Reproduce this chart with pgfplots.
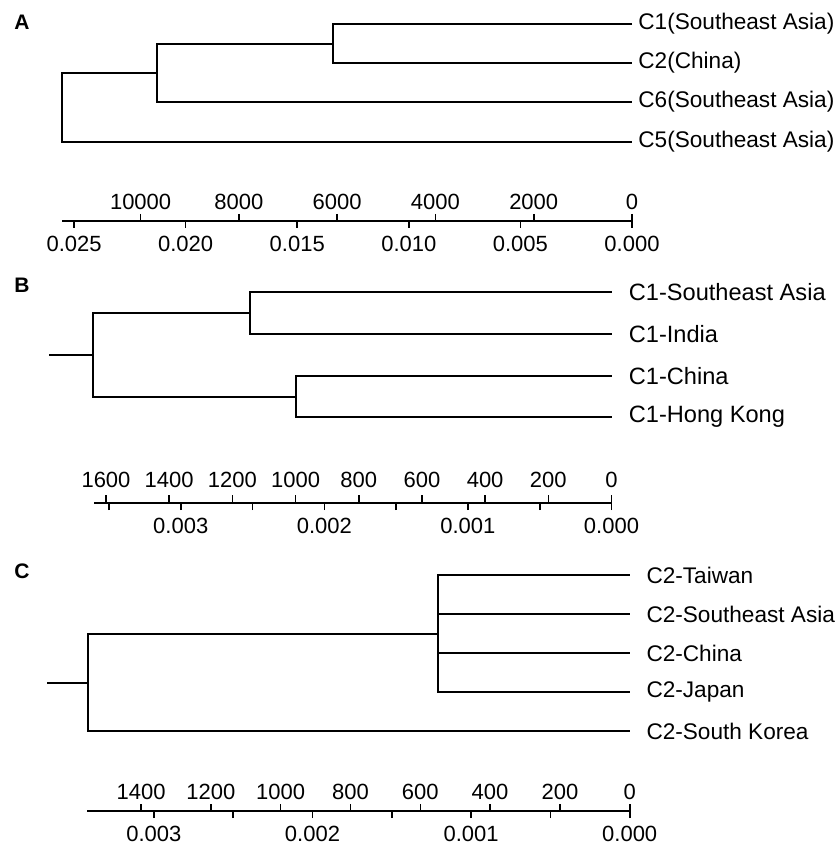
\documentclass[border=0pt]{standalone}
\usepackage{fontspec}
\setmainfont{Liberation Sans}
\usepackage{pgfplots}
\pgfplotsset{compat=1.18}
\newcommand{\lblfont}{\fontsize{11.3}{13}\selectfont}
\newcommand{\tickfont}{\fontsize{11}{13}\selectfont}
\pgfplotsset{
  tree/.style={scale only axis, clip=false, x dir=reverse, hide y axis,
    axis x line*=bottom, xmin=0, scaled x ticks=false,
    axis line style={line width=0.8pt, black},
    every tick/.style={line width=0.8pt, black},
    xtick align=outside, major tick length=3.5pt, minor tick length=3.5pt,
    tick label style={font=\tickfont, inner sep=2pt, yshift=-2pt},
    cycle list={{black, line width=0.8pt, mark=none}}, no markers},
  yrs/.style={scale only axis, x dir=reverse, hide y axis,
    axis x line*=top, xmin=0, ymin=0, ymax=1, height=10pt, scaled x ticks=false,
    axis line style={line width=0.8pt, black},
    every tick/.style={line width=0.8pt, black},
    xtick align=outside, major tick length=3.5pt,
    tick label style={font=\tickfont, inner sep=2pt}}
}
\tikzset{leaf/.style={anchor=west, font=\lblfont, inner sep=0pt},
  plab/.style={font=\bfseries\fontsize{10.5}{12}\selectfont}}
\begin{document}
\begin{tikzpicture}
\useasboundingbox (0,0) rectangle (418pt,-422pt);
\node[plab] at (11pt,-11pt) {A};
\node[plab] at (11pt,-142.5pt) {B};
\node[plab] at (11pt,-285.5pt) {C};

% ---------------- Panel A ----------------
\begin{axis}[tree, at={(31pt,-110.5pt)}, anchor=south west, width=285pt, height=98.5pt,
  xmax=0.02554, ymin=-221, ymax=-24,
  xtick={0,0.005,0.01,0.015,0.02,0.025},
  xticklabels={0.000,0.005,0.010,0.015,0.020,0.025}]
\addplot[black, line width=0.8pt] coordinates {(0,-24) (0.0134,-24) (0.0134,-63) (0,-63)};
\addplot[black, line width=0.8pt] coordinates {(0.0134,-44) (0.02128,-44) (0.02128,-102) (0,-102)};
\addplot[black, line width=0.8pt] coordinates {(0.02128,-73) (0.02554,-73) (0.02554,-142) (0,-142)};
\node[leaf, xshift=3pt] at (axis cs:0,-24) {C1(Southeast Asia)};
\node[leaf, xshift=3pt] at (axis cs:0,-63) {C2(China)};
\node[leaf, xshift=3pt] at (axis cs:0,-102) {C6(Southeast Asia)};
\node[leaf, xshift=3pt] at (axis cs:0,-142) {C5(Southeast Asia)};
\end{axis}
\begin{axis}[yrs, at={(31pt,-110.5pt)}, anchor=north west, width=285pt,
  xmax=11600, xtick={0,2000,4000,6000,8000,10000},
  xticklabels={0,2000,4000,6000,8000,10000}]
\end{axis}

% ---------------- Panel B ----------------
\begin{axis}[tree, at={(47pt,-251.5pt)}, anchor=south west, width=258.75pt, height=105.5pt,
  xmax=0.003604, ymin=-503, ymax=-292,
  xtick={0,0.001,0.002,0.003},
  xticklabels={0.000,0.001,0.002,0.003},
  minor xtick={0.0005,0.0015,0.0025,0.0035}]
\addplot[black, line width=0.8pt] coordinates {(0,-292) (0.002517,-292) (0.002517,-334) (0,-334)};
\addplot[black, line width=0.8pt] coordinates {(0,-376) (0.002197,-376) (0.002197,-417) (0,-417)};
\addplot[black, line width=0.8pt] coordinates {(0.002517,-313) (0.00361,-313) (0.00361,-397) (0.002197,-397)};
\addplot[black, line width=0.8pt] coordinates {(0.00361,-355) (0.003917,-355)};
\node[leaf, xshift=8.5pt, font=\fontsize{11.8}{13}\selectfont] at (axis cs:0,-292) {C1-Southeast Asia};
\node[leaf, xshift=8.5pt, font=\fontsize{11.8}{13}\selectfont] at (axis cs:0,-334) {C1-India};
\node[leaf, xshift=8.5pt, font=\fontsize{11.8}{13}\selectfont] at (axis cs:0,-376) {C1-China};
\node[leaf, xshift=8.5pt, font=\fontsize{11.8}{13}\selectfont] at (axis cs:0,-417) {C1-Hong Kong};
\end{axis}
\begin{axis}[yrs, at={(47pt,-251.5pt)}, anchor=north west, width=258.75pt,
  major tick length=4pt, tick label style={yshift=1.5pt},
  xmax=1638, xtick={0,200,400,600,800,1000,1200,1400,1600},
  xticklabels={0,200,400,600,800,1000,1200,1400,1600}]
\end{axis}

% ---------------- Panel C ----------------
\begin{axis}[tree, at={(43.5pt,-405.5pt)}, anchor=south west, width=271.35pt, height=118pt,
  xmax=0.003422, ymin=-811, ymax=-575,
  xtick={0,0.001,0.002,0.003},
  xticklabels={0.000,0.001,0.002,0.003},
  minor xtick={0.0005,0.0015,0.0025}]
\addplot[black, line width=0.8pt] coordinates {(0,-575) (0.001209,-575) (0.001209,-692) (0,-692)};
\addplot[black, line width=0.8pt] coordinates {(0.001209,-614) (0,-614)};
\addplot[black, line width=0.8pt] coordinates {(0.001209,-653) (0,-653)};
\addplot[black, line width=0.8pt] coordinates {(0.001209,-634) (0.003416,-634) (0.003416,-731) (0,-731)};
\addplot[black, line width=0.8pt] coordinates {(0.003416,-683) (0.003674,-683)};
\node[leaf, xshift=8.2pt] at (axis cs:0,-575) {C2-Taiwan};
\node[leaf, xshift=8.2pt] at (axis cs:0,-614) {C2-Southeast Asia};
\node[leaf, xshift=8.2pt] at (axis cs:0,-653) {C2-China};
\node[leaf, xshift=8.2pt] at (axis cs:0,-692) {C2-Japan};
\node[leaf, xshift=8.2pt] at (axis cs:0,-731) {C2-South Korea};
\end{axis}
\begin{axis}[yrs, at={(43.5pt,-405.5pt)}, anchor=north west, width=271.35pt,
  xmax=1555, xtick={0,200,400,600,800,1000,1200,1400},
  xticklabels={0,200,400,600,800,1000,1200,1400}]
\end{axis}
\end{tikzpicture}
\end{document}
